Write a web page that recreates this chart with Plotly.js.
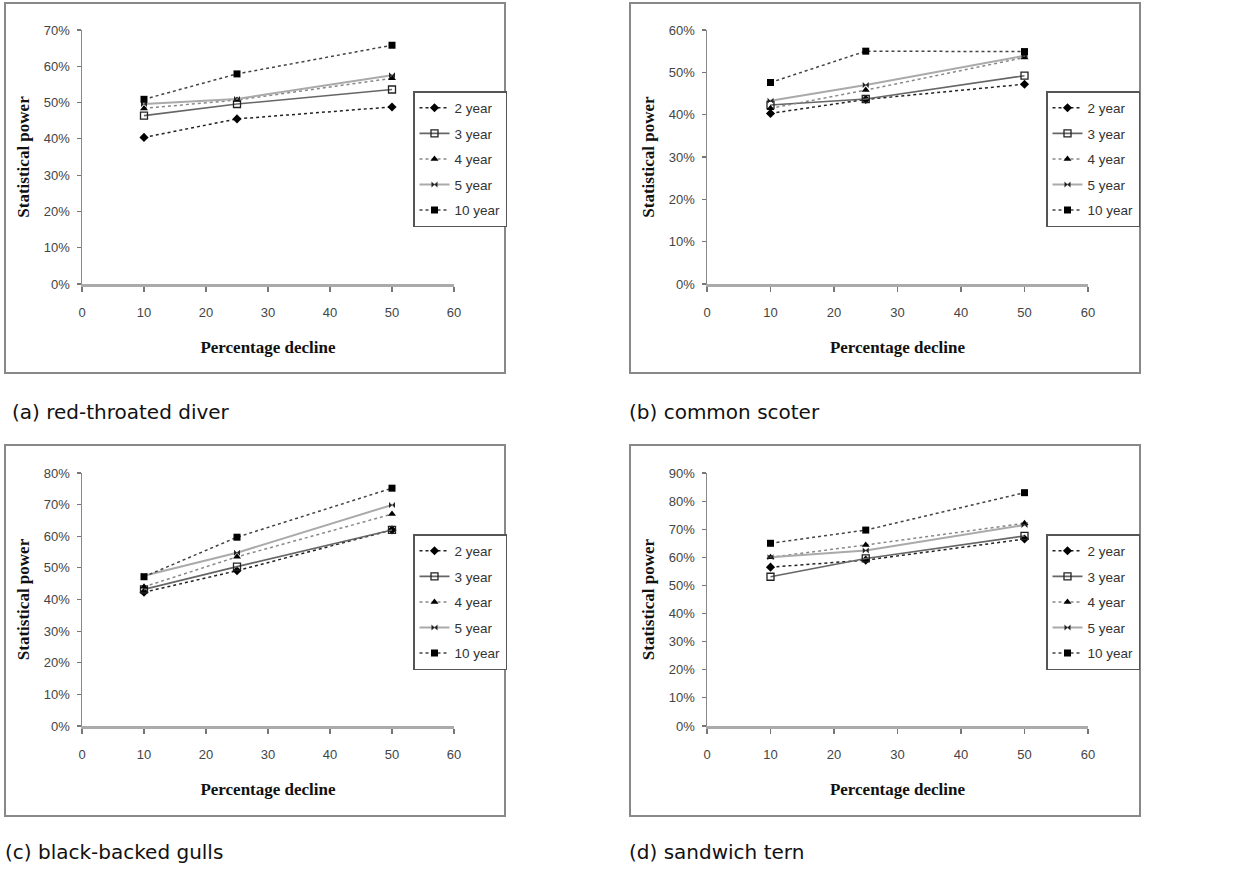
<!DOCTYPE html>
<html>
<head>
<meta charset="utf-8">
<script src="https://cdn.plot.ly/plotly-3.0.1.min.js"></script>
<style>
html,body{margin:0;padding:0;background:#fff;}
#chart{width:1246px;height:869px;}
</style>
</head>
<body>
<div id="chart"></div>
<script>
// ---- Data ----
const declines = [10, 25, 50];
const seriesNames = ["2 year", "3 year", "4 year", "5 year", "10 year"];
const panelCaptions = ["(a) red-throated diver", "(b) common scoter", "(c) black-backed gulls", "(d) sandwich tern"];

// (a) red-throated diver
const diver2  = [40.4, 45.5, 48.8];
const diver3  = [46.4, 49.6, 53.6];
const diver4  = [48.4, 50.7, 56.7];
const diver5  = [49.6, 51.0, 57.5];
const diver10 = [50.9, 57.9, 65.8];

// (b) common scoter
const scoter2  = [40.3, 43.6, 47.2];
const scoter3  = [42.3, 43.7, 49.2];
const scoter4  = [41.5, 45.8, 53.5];
const scoter5  = [43.3, 47.0, 53.9];
const scoter10 = [47.6, 55.0, 54.9];

// (c) black-backed gulls
const gulls2  = [42.3, 49.1, 62.0];
const gulls3  = [43.2, 50.4, 62.0];
const gulls4  = [44.0, 53.5, 67.0];
const gulls5  = [47.5, 54.8, 69.9];
const gulls10 = [47.2, 59.7, 75.2];

// (d) sandwich tern
const tern2  = [56.5, 59.0, 66.5];
const tern3  = [53.1, 59.6, 67.6];
const tern4  = [60.0, 64.4, 72.1];
const tern5  = [60.0, 62.4, 71.5];
const tern10 = [65.0, 69.7, 83.0];

const yMax = [70, 60, 80, 90];
const xTicks = [0, 10, 20, 30, 40, 50, 60];

const panels = [
  [diver2, diver3, diver4, diver5, diver10],
  [scoter2, scoter3, scoter4, scoter5, scoter10],
  [gulls2, gulls3, gulls4, gulls5, gulls10],
  [tern2, tern3, tern4, tern5, tern10]
];

// ---- Styles ----
const W = 1246, H = 869;
const px = v => v / W;
const py = v => 1 - v / H;

const styles = [
  {line: {color: "#222", dash: "dot", width: 1.5}, marker: {symbol: "diamond", color: "#000", size: 7}},
  {line: {color: "#666", dash: "solid", width: 1.6}, marker: {symbol: "square-open", color: "#222", size: 7, line: {width: 1.3}}},
  {line: {color: "#888", dash: "dot", width: 1.5}, marker: {symbol: "triangle-up", color: "#000", size: 7}},
  {line: {color: "#aaa", dash: "solid", width: 2}, marker: {symbol: "bowtie", color: "#222", size: 6}},
  {line: {color: "#444", dash: "dot", width: 1.5}, marker: {symbol: "square", color: "#000", size: 7}}
];

// pixel geometry of each panel
const geo = [
  {ax0: 82, ax1: 454, ay0: 284, ay1: 30, fx0: 5, fx1: 505, fy0: 3, fy1: 373, lx: 413, ly: 91, cx: 10, cy: 412},
  {ax0: 707, ax1: 1088, ay0: 284, ay1: 30, fx0: 630, fx1: 1140, fy0: 3, fy1: 373, lx: 1046, ly: 91, cx: 627, cy: 412},
  {ax0: 82, ax1: 454, ay0: 726, ay1: 473, fx0: 5, fx1: 505, fy0: 445, fy1: 816, lx: 413, ly: 534, cx: 3, cy: 852},
  {ax0: 707, ax1: 1088, ay0: 726, ay1: 473, fx0: 630, fx1: 1140, fy0: 445, fy1: 816, lx: 1046, ly: 534, cx: 627, cy: 852}
];

const traces = [];
const layout = {
  width: W, height: H,
  margin: {l: 0, r: 0, t: 0, b: 0},
  paper_bgcolor: "#fff",
  plot_bgcolor: "#fff",
  showlegend: true,
  shapes: [],
  annotations: [],
  font: {family: "Liberation Sans, Arial, sans-serif", color: "#333"}
};

panels.forEach((series, p) => {
  const g = geo[p];
  const sfx = p === 0 ? "" : String(p + 1);
  const legendName = "legend" + sfx;
  series.forEach((vals, s) => {
    traces.push({
      type: "scatter",
      mode: "lines+markers",
      x: declines,
      y: vals,
      name: seriesNames[s],
      xaxis: "x" + sfx,
      yaxis: "y" + sfx,
      legend: legendName,
      legendgroup: "p" + p + "s" + s,
      line: styles[s].line,
      marker: styles[s].marker,
      cliponaxis: false
    });
  });

  layout["xaxis" + sfx] = {
    domain: [px(g.ax0), px(g.ax1)],
    anchor: "y" + sfx,
    range: [0, 60],
    tickvals: xTicks,
    ticks: "outside", ticklen: 5, tickcolor: "#777", tickwidth: 1.5,
    ticklabelstandoff: 10,
    showline: true, linecolor: "#aaa", linewidth: 2.5,
    showgrid: false, zeroline: false,
    tickfont: {family: "Liberation Sans, Arial, sans-serif", size: 13, color: "#444"},
    title: {text: "Percentage decline", standoff: 22,
            font: {family: "Liberation Serif, Times New Roman, serif", size: 17, color: "#111", weight: "bold"}},
    fixedrange: true
  };
  layout["yaxis" + sfx] = {
    domain: [py(g.ay0), py(g.ay1)],
    anchor: "x" + sfx,
    range: [0, yMax[p]],
    dtick: 10,
    ticksuffix: "%",
    ticks: "outside", ticklen: 4, tickcolor: "#777", tickwidth: 1.2,
    ticklabelstandoff: 4,
    showline: true, linecolor: "#888", linewidth: 1.5,
    showgrid: false, zeroline: false,
    tickfont: {family: "Liberation Sans, Arial, sans-serif", size: 13, color: "#444"},
    title: {text: "Statistical power", standoff: 10,
            font: {family: "Liberation Serif, Times New Roman, serif", size: 17, color: "#111", weight: "bold"}},
    fixedrange: true
  };
  layout[legendName] = {
    x: px(g.lx), xanchor: "left",
    y: py(g.ly), yanchor: "top",
    bgcolor: "#fff",
    bordercolor: "#555", borderwidth: 1.5,
    font: {family: "Liberation Sans, Arial, sans-serif", size: 13.5, color: "#333"},
    itemwidth: 30,
    tracegroupgap: 5,
    traceorder: "grouped"
  };
  layout.shapes.push({
    type: "rect", xref: "paper", yref: "paper",
    x0: px(g.fx0), x1: px(g.fx1), y0: py(g.fy1), y1: py(g.fy0),
    line: {color: "#888", width: 2}, fillcolor: "rgba(0,0,0,0)", layer: "below"
  });
  layout.annotations.push({
    xref: "paper", yref: "paper",
    x: px(g.cx), y: py(g.cy), xanchor: "left", yanchor: "middle",
    text: panelCaptions[p], showarrow: false,
    font: {family: "DejaVu Sans, Verdana, sans-serif", size: 20, color: "#111"}
  });
});

Plotly.newPlot("chart", traces, layout, {displayModeBar: false, staticPlot: true});
</script>
</body>
</html>
